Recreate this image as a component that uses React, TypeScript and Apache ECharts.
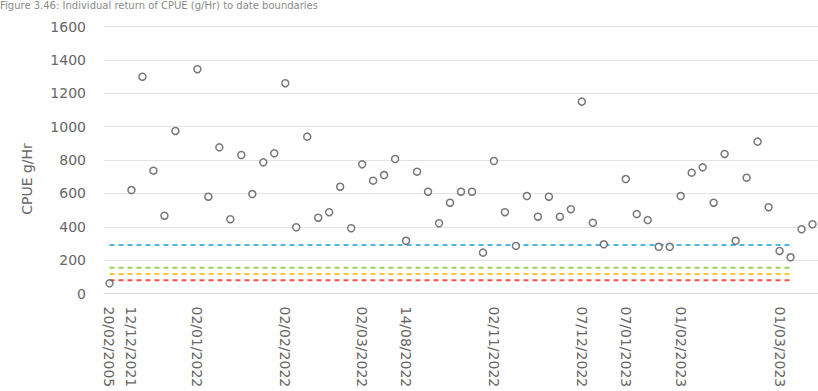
import React, { useEffect, useRef } from "react";
import * as echarts from "echarts";

// Tick labels along the category axis (one per sample; blank where Excel showed none)
const tickLabels: string[] = [
  "20/02/2005", "", "12/12/2021", "", "", "", "", "", "02/01/2022", "", "",
  "", "", "", "", "", "02/02/2022", "", "", "", "", "", "", "02/03/2022",
  "", "", "", "14/08/2022", "", "", "", "", "", "", "", "02/11/2022", "",
  "", "", "", "", "", "", "07/12/2022", "", "", "", "07/01/2023", "", "",
  "", "", "01/02/2023", "", "", "", "", "", "", "", "", "01/03/2023", "", "", "",
];

// Individual CPUE (g/Hr) per sample; null = no value
const cpue: (number | null)[] = [
  61, null, 620, 1299, 736, 466, 974, null, 1344, 580, 876,
  445, 830, 596, 786, 840, 1260, 397, 940, 454, 487,
  640, 391, 774, 676, 710, 806, 316, 730, 610, 421,
  544, 610, 610, 245, 794, 487, 285, 584, 460, 580,
  460, 505, 1150, 424, 295, null, 686, 476, 440, 280,
  280, 584, 724, 756, 544, 836, 316, 694, 910, 517,
  255, 217, 385, 415,
];

// Boundary lines
const boundaryNames = ["Boundary 1", "Boundary 2", "Boundary 3", "Boundary 4"];
const boundaryValues = [290, 155, 117, 80];
const boundaryColors = ["#4FB6E3", "#98D35E", "#FFC33D", "#F2504E"];
const boundaryStart = 0;
const boundaryEnd = 62;

const yTicks = { min: 0, max: 1600, interval: 200 };

const FONT = "DejaVu Sans";

export default function App() {
  const ref = useRef<HTMLDivElement>(null);

  useEffect(() => {
    if (!ref.current) return;
    const chart = echarts.init(ref.current, undefined, { renderer: "svg" });
    const categories = tickLabels.map((_, i) => String(i));
    const points: [number, number][] = [];
    cpue.forEach((v, i) => {
      if (v !== null) points.push([i, v]);
    });

    const lineSeries = boundaryValues.map((v, k) => ({
      name: boundaryNames[k],
      type: "line",
      data: [
        [boundaryStart, v],
        [boundaryEnd, v],
      ],
      symbol: "none",
      silent: true,
      z: 2,
      lineStyle: { color: boundaryColors[k], width: 2, type: [5, 4] },
    }));

    chart.setOption({
      animation: false,
      backgroundColor: "#ffffff",
      grid: { left: 104, right: 0, top: 26.5, bottom: 97.5, containLabel: false },
      xAxis: {
        type: "category",
        data: categories,
        boundaryGap: true,
        axisLine: { show: true, lineStyle: { color: "#d9d9d9", width: 1 } },
        axisTick: { show: false },
        splitLine: { show: false },
        axisLabel: {
          interval: 0,
          rotate: -90,
          margin: 13,
          fontSize: 14,
          fontFamily: FONT,
          color: "#666666",
          formatter: (_v: string, i: number) => tickLabels[i],
        },
      },
      yAxis: {
        type: "value",
        min: yTicks.min,
        max: yTicks.max,
        interval: yTicks.interval,
        axisLine: { show: false },
        axisTick: { show: false },
        splitLine: { lineStyle: { color: "#e3e3e3", width: 1 } },
        axisLabel: {
          margin: 18,
          fontSize: 14,
          fontFamily: FONT,
          color: "#666666",
          formatter: (v: number) => String(v),
        },
      },
      series: [
        ...lineSeries,
        {
          name: "CPUE",
          type: "scatter",
          data: points,
          symbol: "circle",
          symbolSize: 7,
          z: 5,
          itemStyle: { color: "#ffffff", borderColor: "#555555", borderWidth: 1.5 },
        },
      ],
      graphic: [
        {
          type: "text",
          x: 0,
          y: 0,
          style: {
            text: "Figure 3.46: Individual return of CPUE (g/Hr) to date boundaries",
            fontSize: 10,
            fontFamily: FONT,
            fill: "#8a8a8a",
          },
        },
        {
          type: "text",
          x: 27,
          y: 179,
          rotation: Math.PI / 2,
          style: {
            text: "CPUE g/Hr",
            fontSize: 14,
            fontFamily: FONT,
            fill: "#666666",
            align: "center",
            verticalAlign: "middle",
          },
        },
      ],
    });

    return () => chart.dispose();
  }, []);

  return (
    <div
      ref={ref}
      style={{ position: "fixed", left: 0, top: 0, width: 818, height: 391, background: "#fff" }}
    />
  );
}
